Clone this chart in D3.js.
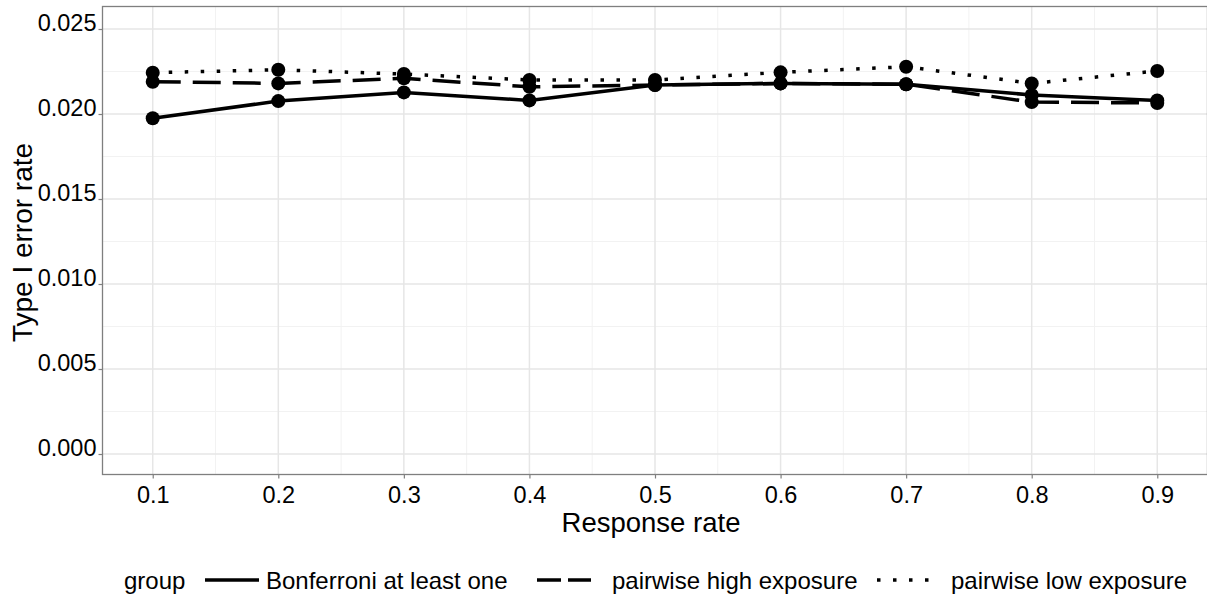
<!DOCTYPE html>
<html><head><meta charset="utf-8">
<script src="https://cdn.jsdelivr.net/npm/d3@7"></script>
<style>body{margin:0;background:#fff;} text{font-family:"Liberation Sans",Arial,sans-serif;}</style>
</head><body><svg id="c" width="1207" height="598"></svg>
<script>
const responseRates = [0.1,0.2,0.3,0.4,0.5,0.6,0.7,0.8,0.9];
const bonferroni = [0.01975,0.02076,0.02127,0.0208,0.0217,0.0218,0.02175,0.02112,0.0208];
const pairwiseHigh = [0.0219,0.0218,0.0221,0.0216,0.0217,0.0218,0.02175,0.0207,0.02065];
const pairwiseLow = [0.02243,0.0226,0.02235,0.0220,0.0220,0.02245,0.02278,0.0218,0.02253];
const groupNames = ["Bonferroni at least one","pairwise high exposure","pairwise low exposure"];
const yTicks = [0,0.005,0.010,0.015,0.020,0.025];
const xTicks = [0.1,0.2,0.3,0.4,0.5,0.6,0.7,0.8,0.9];

const series = [
  {name:groupNames[0], values:bonferroni, dash:null},
  {name:groupNames[1], values:pairwiseHigh, dash:"28,12"},
  {name:groupNames[2], values:pairwiseLow, dash:"3.5,12.5"}
];

const svg = d3.select("#c");
const L=102.5, R=1207.5, T=6.5, B=474.5;
const x = d3.scaleLinear().domain([0.06,0.94]).range([L,R]);
const y = d3.scaleLinear().domain([0,0.025]).range([454,29]);

const g = svg.append("g");
const yMinor = d3.range(0.0025,0.026,0.005);
const xMinor = d3.range(0.15,0.9,0.1);
g.selectAll(".ymin").data(yMinor).enter().append("line")
  .attr("x1",L).attr("x2",R).attr("y1",d=>y(d)).attr("y2",d=>y(d))
  .attr("stroke","#f2f2f2").attr("stroke-width",1);
g.selectAll(".xmin").data(xMinor).enter().append("line")
  .attr("y1",T).attr("y2",B).attr("x1",d=>x(d)).attr("x2",d=>x(d))
  .attr("stroke","#f2f2f2").attr("stroke-width",1);
g.selectAll(".ymaj").data(yTicks).enter().append("line")
  .attr("x1",L).attr("x2",R).attr("y1",d=>y(d)).attr("y2",d=>y(d))
  .attr("stroke","#e6e6e6").attr("stroke-width",1.5);
g.selectAll(".xmaj").data(xTicks).enter().append("line")
  .attr("y1",T).attr("y2",B).attr("x1",d=>x(d)).attr("x2",d=>x(d))
  .attr("stroke","#e6e6e6").attr("stroke-width",1.5);

const yAxis = d3.axisLeft(y).tickValues(yTicks).tickFormat(d3.format(".3f")).tickSize(4).tickPadding(2);
const xAxis = d3.axisBottom(x).tickValues(xTicks).tickFormat(d3.format(".1f")).tickSize(4).tickPadding(8);
const ya = svg.append("g").attr("transform",`translate(${L},0)`).call(yAxis);
const xa = svg.append("g").attr("transform",`translate(0,${B})`).call(xAxis);
[ya,xa].forEach(a=>{
  a.select(".domain").remove();
  a.selectAll(".tick line").attr("stroke","#7f7f7f").attr("stroke-width",1.2);
  a.selectAll(".tick text").attr("fill","#000").style("font-size","23.5px").style("font-family","Liberation Sans, Arial, sans-serif");
});
ya.selectAll(".tick text").attr("dy","0.05em");

svg.append("rect").attr("x",L).attr("y",T).attr("width",R-L).attr("height",B-T)
  .attr("fill","none").attr("stroke","#7f7f7f").attr("stroke-width",1.3);

const line = d3.line().x((d,i)=>x(responseRates[i])).y(d=>y(d));
series.forEach(s=>{
  svg.append("path").datum(s.values).attr("d",line).attr("fill","none")
    .attr("stroke","#000").attr("stroke-width",3.5)
    .attr("stroke-dasharray",s.dash);
});
series.forEach(s=>{
  svg.selectAll(null).data(s.values).enter().append("circle")
    .attr("cx",(d,i)=>x(responseRates[i])).attr("cy",d=>y(d)).attr("r",7).attr("fill","#000");
});

svg.append("text").attr("x",(L+R)/2-4).attr("y",532).attr("text-anchor","middle")
  .style("font-size","27.5px").text("Response rate");
svg.append("text").attr("transform",`translate(32,${(T+B)/2+2}) rotate(-90)`).attr("text-anchor","middle")
  .style("font-size","28px").text("Type I error rate");

const lg = svg.append("g").attr("transform","translate(0,580)");
lg.append("text").attr("x",124).attr("y",9).style("font-size","24px").text("group");
const keyX = [205,537,877], textX=[266,612,951];
series.forEach((s,i)=>{
  lg.append("line").attr("x1",keyX[i]).attr("x2",keyX[i]+54).attr("y1",0).attr("y2",0)
    .attr("stroke","#000").attr("stroke-width",3.5).attr("stroke-dasharray",s.dash ? (i===1?"24,7":"3.5,12.5"):null);
  lg.append("text").attr("x",textX[i]).attr("y",9).style("font-size","24px").text(s.name);
});
</script></body></html>
